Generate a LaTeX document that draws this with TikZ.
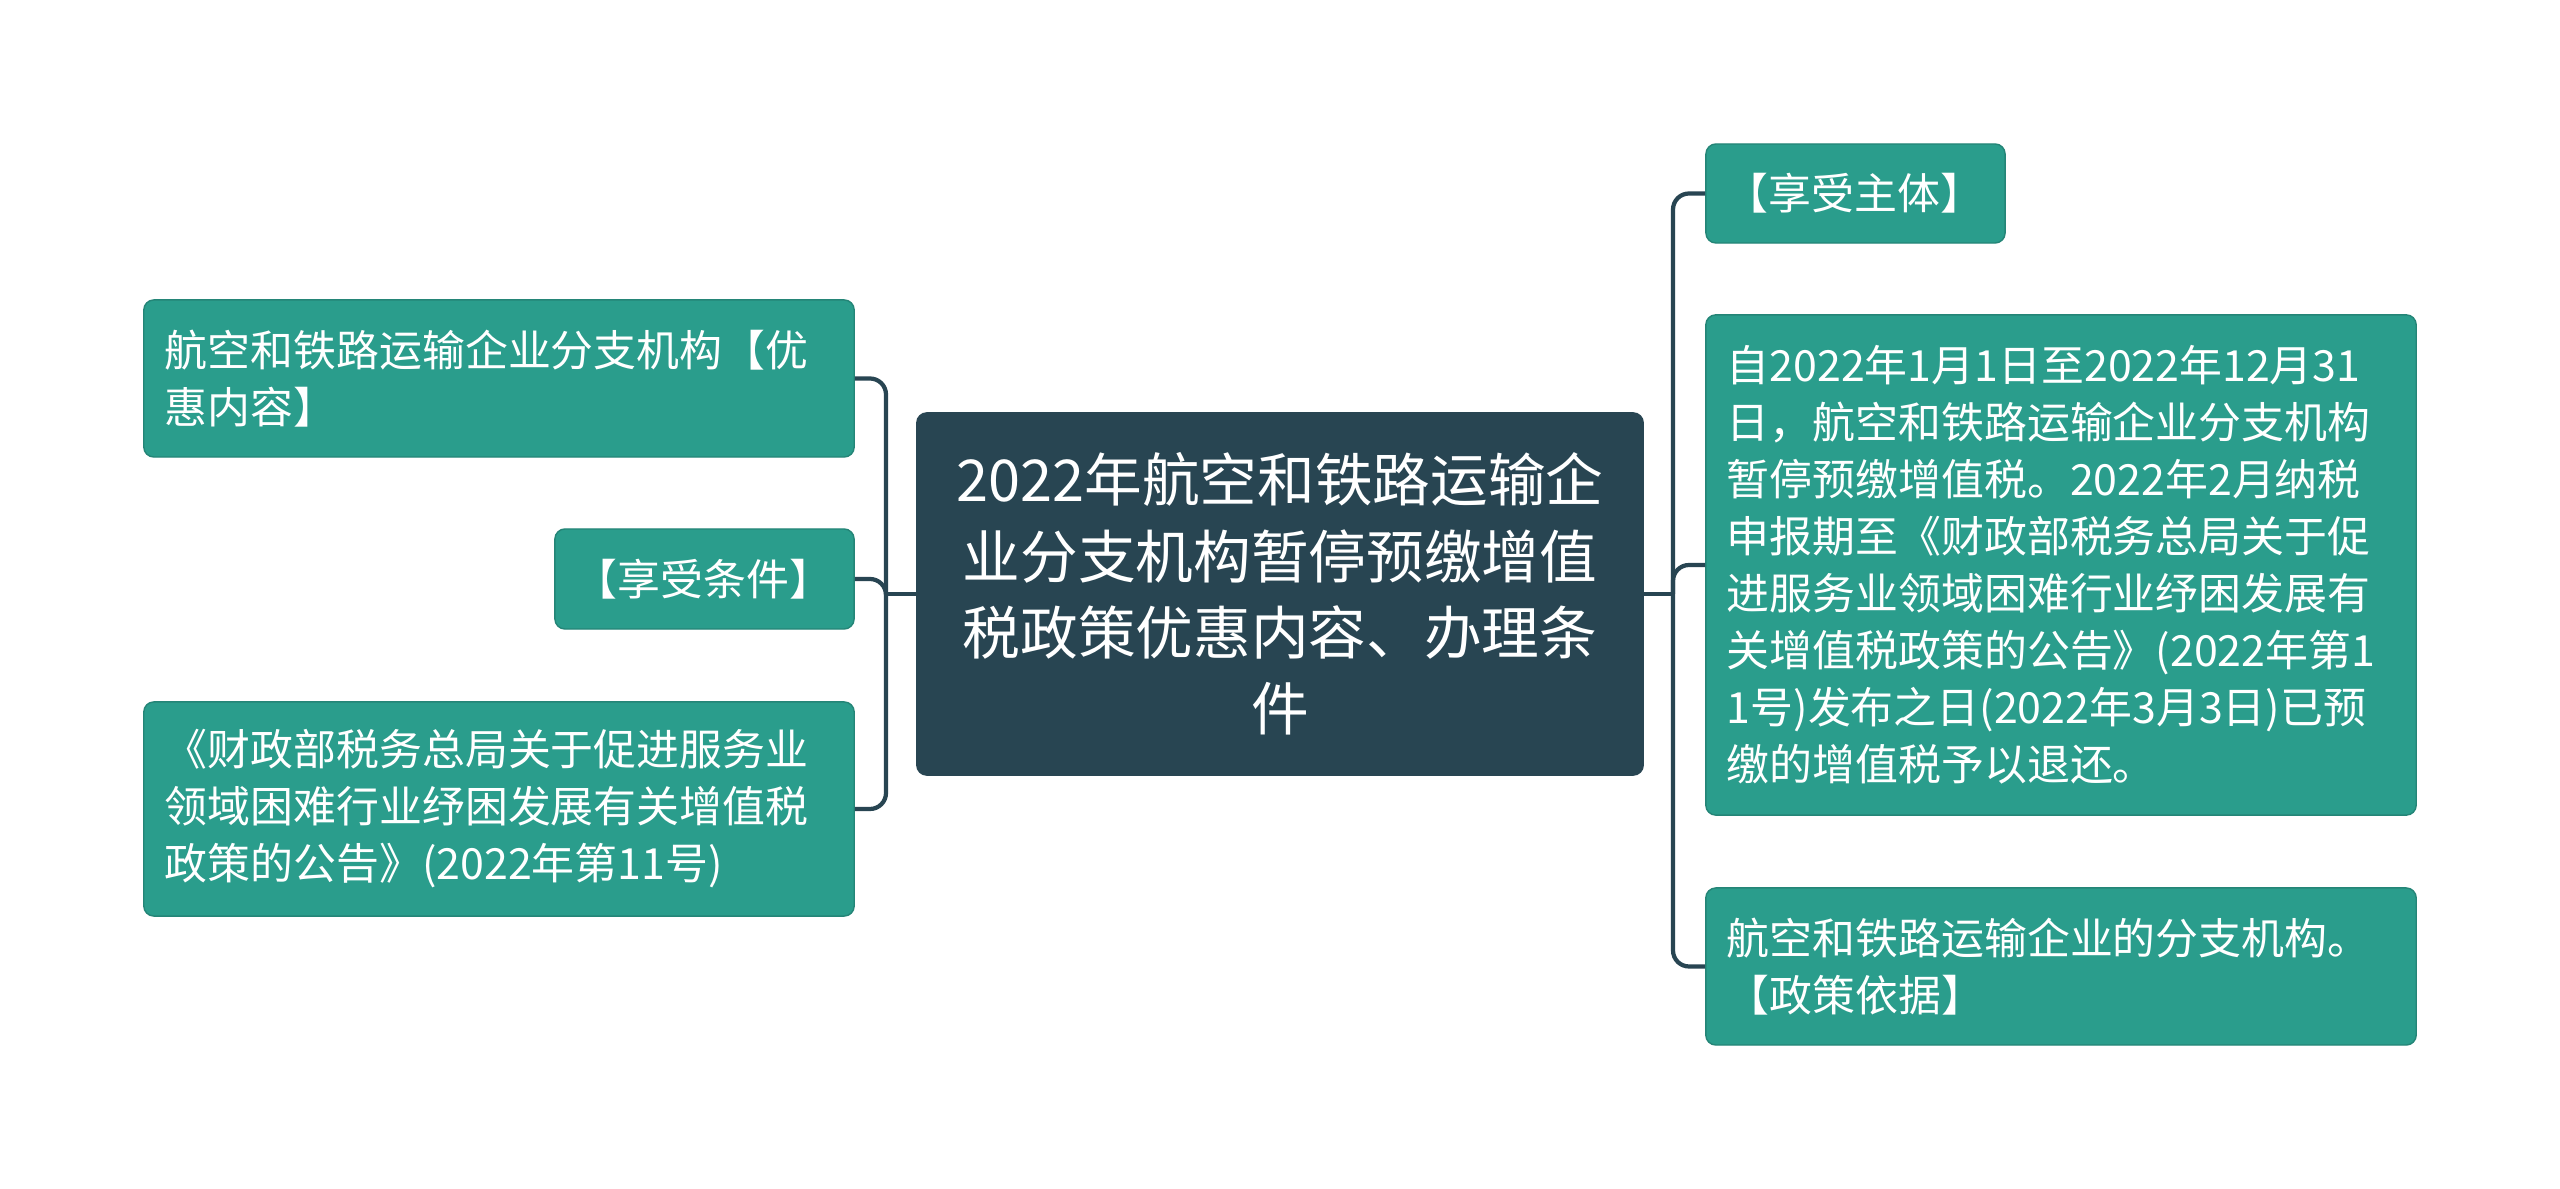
\documentclass[tikz,border=0pt]{standalone}
\usepackage{fontspec}
\setmainfont{Noto Sans CJK SC}
\definecolor{leafc}{HTML}{2A9D8C}
\definecolor{darkc}{HTML}{284552}
\tikzset{
  basebox/.style={rounded corners=0.1cm, text=white, inner xsep=0.21cm, inner ysep=0pt, anchor=center},
  leaf/.style={basebox, fill=leafc, draw=leafc!85!black, line width=0.4pt, align=left,
    font=\fontsize{12.2pt}{16.2pt}\selectfont},
  rootbox/.style={basebox, fill=darkc, draw=darkc, align=center,
    font=\fontsize{16.4pt}{21.7pt}\selectfont},
  conn/.style={draw=darkc, line width=1.2pt, rounded corners=0.16cm}
}
\begin{document}
\begin{tikzpicture}[x=0.01cm,y=-0.01cm]
\useasboundingbox[fill=white] (0,0) rectangle (2560,1189);

\node[rootbox, text width=6.84cm, minimum width=7.24cm, minimum height=3.62cm] (c) at (1280,594)
  {2022年航空和铁路运输企\\业分支机构暂停预缴增值\\税政策优惠内容、办理条\\件};

\node[leaf, text width=6.68cm, minimum width=7.10cm, minimum height=1.57cm] (l1) at (499,378.5)
  {航空和铁路运输企业分支机构【优\\惠内容】};
\node[leaf, text width=2.59cm, minimum width=2.99cm, minimum height=1.00cm, inner xsep=0.20cm] (l2) at (704.5,579)
  {【享受条件】};
\node[leaf, text width=6.68cm, minimum width=7.10cm, minimum height=2.14cm] (l3) at (499,809)
  {《财政部税务总局关于促进服务业\\领域困难行业纾困发展有关增值税\\政策的公告》(2022年第11号)};

\node[leaf, text width=2.59cm, minimum width=2.99cm, minimum height=0.99cm, inner xsep=0.20cm] (r1) at (1855.5,193.5)
  {【享受主体】};
\node[leaf, text width=6.68cm, minimum width=7.10cm, minimum height=5.00cm] (r2) at (2061,565)
  {自2022年1月1日至2022年12月31\\日，航空和铁路运输企业分支机构\\暂停预缴增值税。2022年2月纳税\\申报期至《财政部税务总局关于促\\进服务业领域困难行业纾困发展有\\关增值税政策的公告》(2022年第1\\1号)发布之日(2022年3月3日)已预\\缴的增值税予以退还。};
\node[leaf, text width=6.68cm, minimum width=7.10cm, minimum height=1.57cm] (r3) at (2061,966.5)
  {航空和铁路运输企业的分支机构。\\【政策依据】};

\coordinate (jl) at (886,594);
\coordinate (jr) at (1673,594);

\draw[conn] (c.west) -- (jl);
\draw[conn] (jl) |- (l1.east);
\draw[conn] (jl) |- (l2.east);
\draw[conn] (jl) |- (l3.east);

\draw[conn] (c.east) -- (jr);
\draw[conn] (jr) |- (r1.west);
\draw[conn] (jr) |- (r2.west);
\draw[conn] (jr) |- (r3.west);
\end{tikzpicture}
\end{document}
